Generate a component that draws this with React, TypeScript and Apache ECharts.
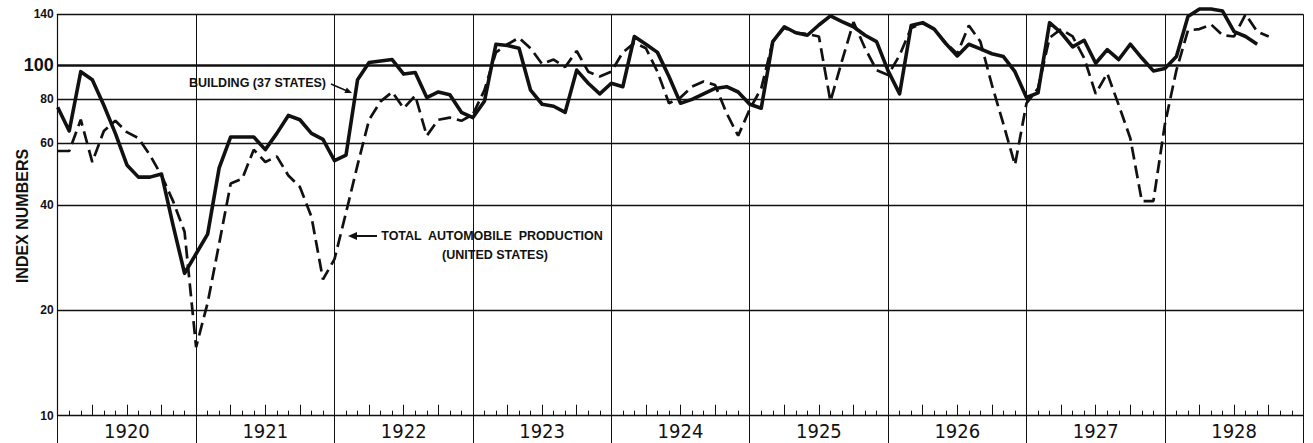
import React, { useEffect, useRef } from "react";
import * as echarts from "echarts";

// Year labels (each spans 12 monthly points, Jan 1920 = index 0)
const years = ["1920", "1921", "1922", "1923", "1924", "1925", "1926", "1927", "1928"];

// Building (37 States) – monthly index numbers
const building = [
  76, 65, 96, 91, 77, 64, 52, 48, 48, 49, 35, 25.5,
  29, 33, 51, 62.5, 62.5, 62.5, 57.5, 64, 72, 70, 64, 61.5,
  53.5, 55.5, 91, 102, 103, 104, 94.5, 95.5, 81, 84, 82.5, 73.5,
  71, 79, 115, 114, 112, 85, 77.5, 76.5, 73.5, 97, 89, 83,
  89, 87, 121, 115, 109, 93, 78, 80, 83, 86, 87, 84,
  77.5, 75.5, 117, 129, 124, 122, 130.5, 138.5, 133.5, 129, 122, 117,
  96.5, 83, 130, 132.5, 127, 115.5, 106.5, 115, 111.5, 108, 106, 96,
  81, 83.5, 132.5, 124, 113, 118, 101.5, 111, 104, 115, 105, 96.5,
  98, 106, 138, 145, 145, 143, 125, 121, 115,
];

// Total automobile production (United States) – monthly index numbers
const automobile = [
  57, 57, 70, 53, 65, 69.5, 64.5, 62, 55.5, 48.5, 41, 33.5,
  15.7, 21, 31, 46, 47.5, 57.5, 53, 55, 48.5, 45, 37, 24.5,
  28, 38, 52, 70, 79, 84, 75.5, 82, 63, 70, 71, 69.5,
  72.5, 85, 109, 115, 120, 112, 101, 104, 99, 110, 96, 93,
  96, 109, 116, 112, 96, 78, 81, 87, 90, 88, 73, 63,
  75, 86, 117, 128, 124, 123, 121, 79, 103, 133, 112, 97,
  94, 107, 128, 132, 127, 116, 108, 130, 117, 88, 68, 52,
  78, 86, 120, 127, 121, 105, 83, 95, 77, 62, 41, 41,
  68, 97, 126, 127, 131, 122, 121, 140, 125, 121,
];

// Y tick labels (log scale)
const yTicks = [10, 20, 40, 60, 80, 100, 140];

const INK = "#111";
const SANS = "'Liberation Sans', Arial, 'DejaVu Sans', sans-serif";
const NARROW = "'Liberation Sans Narrow', 'Arial Narrow', 'DejaVu Sans Condensed', 'Liberation Sans', sans-serif";

export default function App() {
  const ref = useRef<HTMLDivElement>(null);

  useEffect(() => {
    if (!ref.current) return;
    const chart = echarts.init(ref.current, null, { renderer: "svg" });
    const pairs = (arr: number[]) => arr.map((v, i) => [i, v]);
    const months = years.length * 12;

    const option: any = {
      animation: false,
      backgroundColor: "#fff",
      grid: { left: 57.7, right: 9.7, top: 14.3, bottom: 27.3, containLabel: false },
      xAxis: [
        {
          type: "value",
          min: 0,
          max: months,
          interval: 12,
          position: "bottom",
          axisLine: { show: true, lineStyle: { color: INK, width: 1.4 } },
          axisTick: { show: true, inside: false, length: 28, lineStyle: { color: INK, width: 1 } },
          axisLabel: { show: false },
          splitLine: { show: true, lineStyle: { color: INK, width: 1 } },
        },
        {
          type: "value",
          min: 0,
          max: months,
          interval: 3,
          position: "bottom",
          axisLine: { show: false },
          axisTick: { show: true, inside: true, length: 11, lineStyle: { color: INK, width: 1 } },
          minorTick: { show: true, splitNumber: 3, length: 5, lineStyle: { color: INK, width: 1 } },
          axisLabel: { show: false },
          splitLine: { show: false },
        },
        {
          type: "category",
          data: years,
          position: "bottom",
          boundaryGap: true,
          axisLine: { show: false },
          axisTick: { show: false },
          axisLabel: {
            show: true,
            interval: 0,
            margin: 5,
            color: INK,
            fontSize: 20,
            fontFamily: NARROW,
          },
          splitLine: { show: false },
        },
      ],
      yAxis: {
        type: "log",
        logBase: 10,
        min: 10,
        max: 140,
        axisLine: { show: true, lineStyle: { color: INK, width: 1.2 } },
        axisTick: { show: false },
        axisLabel: { show: false },
        splitLine: { show: false },
        minorSplitLine: { show: false },
      },
      series: [
        {
          name: "grid",
          type: "line",
          data: [],
          xAxisIndex: 0,
          yAxisIndex: 0,
          z: 1,
          silent: true,
          markLine: {
            silent: true,
            symbol: ["none", "none"],
            animation: false,
            lineStyle: { color: INK, type: "solid", width: 1.3 },
            label: {
              show: true,
              position: "start",
              distance: 4,
              color: INK,
              fontWeight: "bold",
              fontFamily: SANS,
              fontSize: 12,
            },
            emphasis: { disabled: true },
            data: yTicks.map((v) => ({
              yAxis: v,
              lineStyle: { color: INK, type: "solid", width: v === 100 ? 2.6 : v === 10 ? 0 : 1.3 },
              label: { formatter: String(v), fontSize: v === 100 ? 18 : 12 },
            })),
          },
        },
        {
          name: "BUILDING (37 STATES)",
          type: "line",
          data: pairs(building),
          xAxisIndex: 0,
          yAxisIndex: 0,
          z: 4,
          clip: false,
          symbol: "none",
          silent: true,
          lineStyle: { color: INK, width: 3.6, type: "solid", join: "round" },
        },
        {
          name: "TOTAL AUTOMOBILE PRODUCTION (UNITED STATES)",
          type: "line",
          data: pairs(automobile),
          xAxisIndex: 0,
          yAxisIndex: 0,
          z: 3,
          clip: false,
          symbol: "none",
          silent: true,
          lineStyle: { color: INK, width: 2.7, type: [13, 6] },
        },
      ],
      graphic: [
        {
          type: "text",
          x: 22,
          y: 216,
          rotation: Math.PI / 2,
          silent: true,
          style: {
            text: "INDEX NUMBERS",
            fill: INK,
            font: `bold 16px ${SANS}`,
            textAlign: "center",
            textVerticalAlign: "middle",
            align: "center",
            verticalAlign: "middle",
          },
        },
        {
          type: "text",
          x: 326,
          y: 83,
          silent: true,
          style: {
            text: "BUILDING (37 STATES)",
            fill: INK,
            font: `bold 12.5px ${SANS}`,
            textAlign: "right",
            textVerticalAlign: "middle",
            align: "right",
            verticalAlign: "middle",
          },
        },
        {
          type: "line",
          silent: true,
          shape: { x1: 331, y1: 84, x2: 346, y2: 90.5 },
          style: { stroke: INK, lineWidth: 1.5 },
        },
        {
          type: "polygon",
          silent: true,
          shape: { points: [[352, 93], [344.4, 93.1], [346.8, 87.5]] },
          style: { fill: INK },
        },
        {
          type: "text",
          x: 492,
          y: 236,
          silent: true,
          style: {
            text: "TOTAL  AUTOMOBILE  PRODUCTION",
            fill: INK,
            font: `bold 12.5px ${SANS}`,
            textAlign: "center",
            textVerticalAlign: "middle",
            align: "center",
            verticalAlign: "middle",
          },
        },
        {
          type: "text",
          x: 495,
          y: 255,
          silent: true,
          style: {
            text: "(UNITED STATES)",
            fill: INK,
            font: `bold 12.5px ${SANS}`,
            textAlign: "center",
            textVerticalAlign: "middle",
            align: "center",
            verticalAlign: "middle",
          },
        },
        {
          type: "line",
          silent: true,
          shape: { x1: 355, y1: 236, x2: 377, y2: 236 },
          style: { stroke: INK, lineWidth: 2 },
        },
        {
          type: "polygon",
          silent: true,
          shape: { points: [[348, 236], [357, 232], [357, 240]] },
          style: { fill: INK },
        },
      ],
    };

    chart.setOption(option);
    return () => chart.dispose();
  }, []);

  return (
    <div
      ref={ref}
      style={{ position: "fixed", left: 0, top: 0, width: 1313, height: 443, background: "#fff" }}
    />
  );
}
